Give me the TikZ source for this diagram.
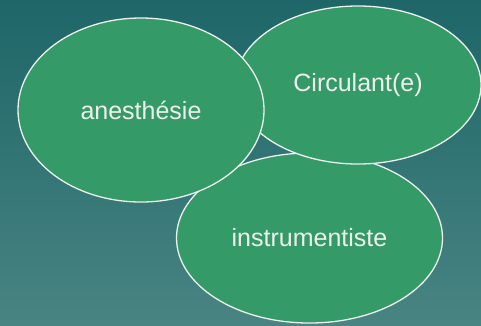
\documentclass[tikz,border=0pt]{standalone}
\usepackage{fontspec}
\setmainfont{Liberation Sans}
\usetikzlibrary{shapes.geometric}

\definecolor{bgtop}{RGB}{30,102,104}
\definecolor{bgbottom}{RGB}{72,132,130}
\definecolor{rolefill}{RGB}{52,154,104}
\definecolor{roletext}{RGB}{238,240,238}

\begin{document}
\begin{tikzpicture}[x=1pt,y=-1pt]
       \tikzstyle{role}=[ellipse, draw=roletext, line width=1.3pt, fill=rolefill,
                         text=roletext, inner sep=0pt, font=\fontsize{25}{30}\selectfont]

       \useasboundingbox (0,0) rectangle (481,325);
       \shade[top color=bgtop, bottom color=bgbottom] (0,0) rectangle (481,325);

       \node[role, minimum width=266pt, minimum height=170pt] (instr) at (309.5,238) {instrumentiste};
       \node[role, minimum width=246pt, minimum height=158pt] (circ)  at (358,85)    {Circulant(e)};
       \node[role, minimum width=246pt, minimum height=184pt] (anest) at (141,110)   {anesthésie};
     \end{tikzpicture}
\end{document}
